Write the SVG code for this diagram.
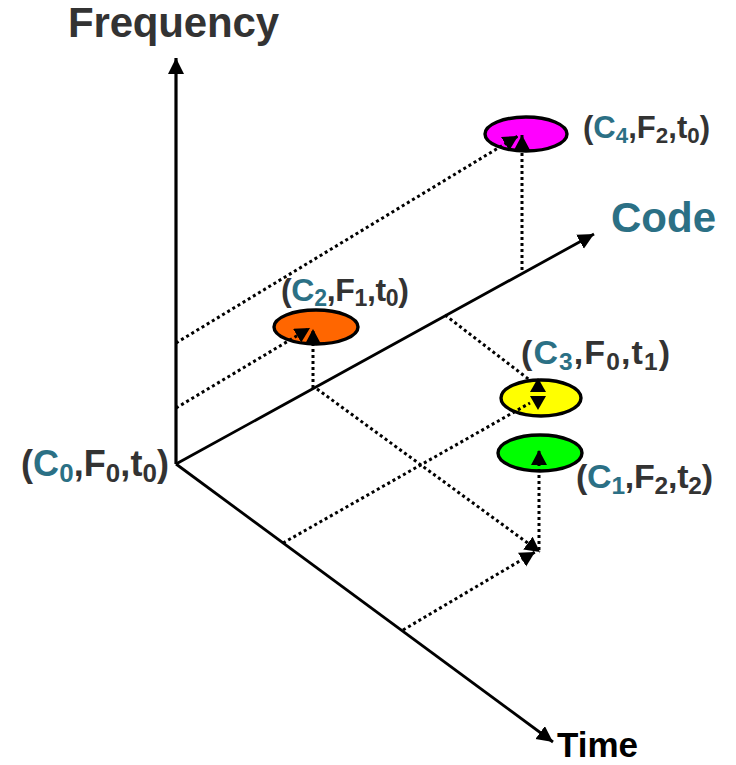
<svg xmlns="http://www.w3.org/2000/svg" xmlns:xlink="http://www.w3.org/1999/xlink" width="736" height="765" viewBox="0 0 736 765">
<style>
.axis{stroke:#000;stroke-width:2.8;fill:none}
.dot{stroke:#000;stroke-width:3;stroke-dasharray:3 3;fill:none}
.node{stroke:#000;stroke-width:3.4}
.lbl{font-family:"Liberation Sans",Arial,sans-serif;font-weight:bold;fill:#333333}
.c{fill:#2b7085}
.sub{font-size:0.72em}
.title{font-family:"Liberation Sans",Arial,sans-serif;font-weight:bold}
</style>
<defs>
<marker id="ax" markerUnits="userSpaceOnUse" markerWidth="17" markerHeight="17" refX="16" refY="8" orient="auto"><path d="M0,0 L16,8 L0,16 Z" fill="#000"/></marker>
<marker id="ah" markerUnits="userSpaceOnUse" markerWidth="16" markerHeight="17" refX="15" refY="8" orient="auto"><path d="M0,0 L15,8 L0,16 Z" fill="#000"/></marker>
<path id="tri" d="M0,0 L-14,-8 L-14,8 Z" fill="#000"/>
</defs>
<rect width="736" height="765" fill="#fff"/>

<g id="axes">
<line class="axis" x1="176" y1="464" x2="176" y2="58" marker-end="url(#ax)" style="stroke-width:3.2"/>
<line class="axis" x1="176" y1="464" x2="594" y2="234" marker-end="url(#ax)"/>
<line class="axis" x1="176" y1="464" x2="553" y2="742" marker-end="url(#ax)"/>
<text class="title" x="68" y="37" font-size="42" fill="#333333" textLength="211" lengthAdjust="spacing">Frequency</text>
<text class="title" x="611" y="232" font-size="42" fill="#2b7085" textLength="105" lengthAdjust="spacing">Code</text>
<text class="title" x="557" y="757" font-size="35" fill="#000">Time</text>
</g>

<g id="n0">
<text class="lbl" x="21" y="476" font-size="36" textLength="148" lengthAdjust="spacing">(<tspan class="c">C</tspan><tspan class="c sub" dy="6">0</tspan><tspan dy="-6">,F</tspan><tspan class="sub" dy="6">0</tspan><tspan dy="-6">,t</tspan><tspan class="sub" dy="6">0</tspan><tspan dy="-6">)</tspan></text>
</g>

<g id="n4">
<ellipse class="node" cx="526" cy="134" rx="41" ry="17" fill="#ff00ff"/>
<text class="lbl" x="583" y="138" font-size="31" textLength="127" lengthAdjust="spacing">(<tspan class="c">C</tspan><tspan class="c sub" dy="5">4</tspan><tspan dy="-5">,F</tspan><tspan class="sub" dy="5">2</tspan><tspan dy="-5">,t</tspan><tspan class="sub" dy="5">0</tspan><tspan dy="-5">)</tspan></text>
</g>

<g id="n2">
<ellipse class="node" cx="316" cy="327" rx="42" ry="17" fill="#ff6600"/>
<text class="lbl" x="281" y="301" font-size="32" textLength="128" lengthAdjust="spacing">(<tspan class="c">C</tspan><tspan class="c sub" dy="5">2</tspan><tspan dy="-5">,F</tspan><tspan class="sub" dy="5">1</tspan><tspan dy="-5">,t</tspan><tspan class="sub" dy="5">0</tspan><tspan dy="-5">)</tspan></text>
</g>

<g id="n3">
<ellipse class="node" cx="541" cy="398" rx="40" ry="18" fill="#ffff00"/>
<text class="lbl" x="521" y="364" font-size="34" textLength="149" lengthAdjust="spacing">(<tspan class="c">C</tspan><tspan class="c sub" dy="6">3</tspan><tspan dy="-6">,F</tspan><tspan class="sub" dy="6">0</tspan><tspan dy="-6">,t</tspan><tspan class="sub" dy="6">1</tspan><tspan dy="-6">)</tspan></text>
</g>

<g id="n1">
<ellipse class="node" cx="540" cy="453" rx="42" ry="18" fill="#00ff00"/>
<text class="lbl" x="576" y="488" font-size="34" textLength="137" lengthAdjust="spacing">(<tspan class="c">C</tspan><tspan class="c sub" dy="6">1</tspan><tspan dy="-6">,F</tspan><tspan class="sub" dy="6">2</tspan><tspan dy="-6">,t</tspan><tspan class="sub" dy="6">2</tspan><tspan dy="-6">)</tspan></text>
</g>

<g id="connectors">
<line class="dot" x1="176" y1="343" x2="518" y2="136" marker-end="url(#ah)"/>
<line class="dot" x1="522" y1="270" x2="522" y2="135" marker-end="url(#ah)"/>
<line class="dot" x1="176" y1="408" x2="310" y2="328" marker-end="url(#ah)"/>
<line class="dot" x1="313" y1="388" x2="313" y2="329" marker-end="url(#ah)"/>
<line class="dot" x1="317" y1="389" x2="540" y2="552" marker-end="url(#ah)"/>
<line class="dot" x1="445" y1="315" x2="531" y2="381"/>
<use xlink:href="#tri" transform="translate(538,378) rotate(-90)"/>
<line class="dot" x1="283" y1="543" x2="530" y2="403"/>
<use xlink:href="#tri" transform="translate(538,410) rotate(90)"/>
<line class="dot" x1="403" y1="630" x2="535" y2="552" marker-end="url(#ah)"/>
<line class="dot" x1="539" y1="550" x2="539" y2="450" marker-end="url(#ah)"/>
</g>
</svg>
